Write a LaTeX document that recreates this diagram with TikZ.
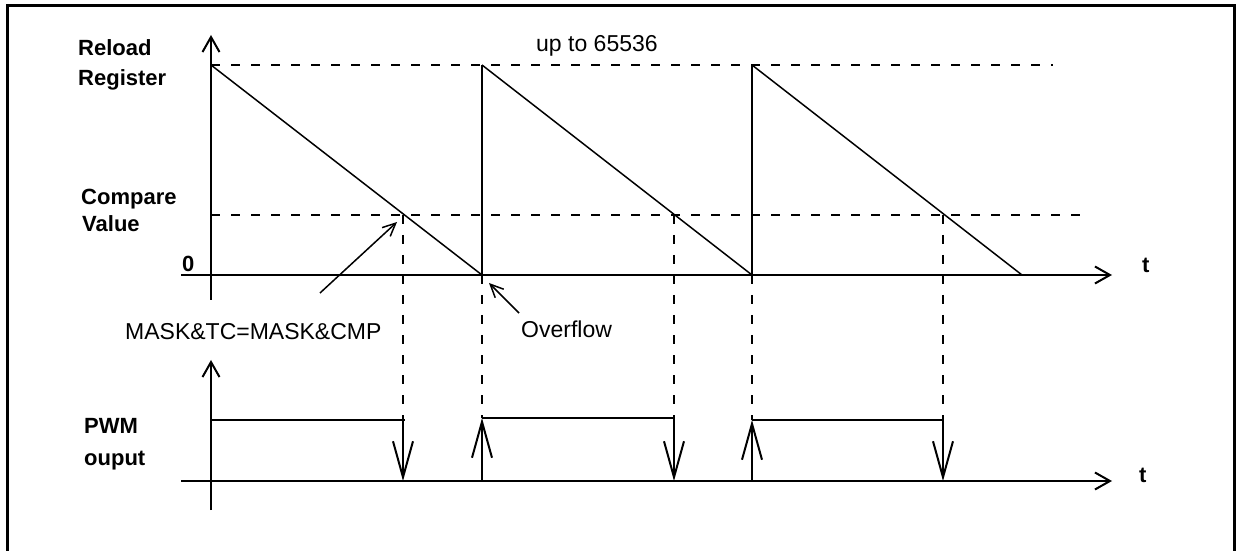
\documentclass[tikz,border=0pt]{standalone}
\usepackage{fontspec}
\setmainfont{Liberation Sans}
\usetikzlibrary{arrows.meta}
\begin{document}
\begin{tikzpicture}[x=1bp,y=-1bp,
  frame/.style={line width=3bp},
  ax/.style={line width=2bp},
  axarrow/.style={line width=2bp,-{Straight Barb[length=15bp,width=17bp]}},
  sawdiag/.style={line width=1.5bp},
  sawvert/.style={line width=2bp},
  guide/.style={line width=2bp,dash pattern=on 9bp off 11bp},
  edgearrow/.style={line width=2bp,-{Straight Barb[length=36bp,width=20bp]}},
  pointer/.style={line width=1.5bp,-{Straight Barb[length=13bp,width=12bp]}},
  lbl/.style={inner sep=0pt,font=\fontsize{22bp}{26bp}\selectfont\bfseries,anchor=base west},
  txt/.style={inner sep=0pt,font=\fontsize{23bp}{27bp}\selectfont,anchor=base west}]
\useasboundingbox (0,0) rectangle (1237,551);
% frame
\draw[frame] (7,551) -- (7,6) -- (1234,6) -- (1234,551);
% key points
\coordinate (ytop) at (211,35);   \coordinate (ybot) at (211,300);
\coordinate (xl) at (181,275);    \coordinate (xr) at (1112,275);
\coordinate (r0) at (211,65);     \coordinate (rE) at (1053,65);
\coordinate (c0) at (211,215);    \coordinate (cE) at (1082,215);
\coordinate (z1) at (482,275);    \coordinate (t1) at (482,65);
\coordinate (z2) at (752,275);    \coordinate (t2) at (752,65);
\coordinate (z3) at (1022,275);
\coordinate (k1) at (403,215);    \coordinate (k2) at (674,215);   \coordinate (k3) at (943,215);
% PWM points
\coordinate (pytop) at (211,360); \coordinate (pybot) at (211,510);
\coordinate (pxl) at (181,481);   \coordinate (pxr) at (1112,481);
\coordinate (h0) at (211,420);    \coordinate (h1e) at (405,420);
\coordinate (f1h) at (403,420);   \coordinate (f1l) at (403,481);
\coordinate (u1l) at (482,481);   \coordinate (u1h) at (482,418);
\coordinate (h2e) at (674,418);
\coordinate (f2h) at (674,418);   \coordinate (f2l) at (674,481);
\coordinate (u2l) at (752,481);   \coordinate (u2h) at (752,420);
\coordinate (h3e) at (943,420);
\coordinate (f3h) at (943,420);   \coordinate (f3l) at (943,481);
% axes
\draw[axarrow] (ybot) -- (ytop);
\draw[axarrow] (xl) -- (xr);
% guides
\draw[guide] (r0) -- (rE);
\draw[guide] (c0) -- (cE);
% sawtooth
\draw[sawdiag] (r0) -- (z1);
\draw[sawvert] (z1) -- (t1);
\draw[sawdiag] (t1) -- (z2);
\draw[sawvert] (z2) -- (t2);
\draw[sawdiag] (t2) -- (z3);
% vertical guides
\draw[guide] (k1) -- (f1h);
\draw[guide] (z1) -- (u1h);
\draw[guide] (k2) -- (f2h);
\draw[guide] (z2) -- (u2h);
\draw[guide] (k3) -- (f3h);
% PWM axes
\draw[axarrow] (pybot) -- (pytop);
\draw[axarrow] (pxl) -- (pxr);
% PWM high levels
\draw[ax] (h0) -- (h1e);
\draw[ax] (u1h) -- (h2e);
\draw[ax] (u2h) -- (h3e);
% edges
\draw[edgearrow] (f1h) -- (f1l);
\draw[edgearrow] (u1l) -- (u1h);
\draw[edgearrow] (f2h) -- (f2l);
\draw[edgearrow] (u2l) -- (u2h);
\draw[edgearrow] (f3h) -- (f3l);
% labels
\node[lbl] (reload) at (78,56) {Reload};
\node[lbl] (register) at (78,86) {Register};
\node[lbl] (compare) at (81,205) {Compare};
\node[lbl] (value) at (82,232) {Value};
\node[lbl] (zero) at (182,272) {0};
\node[txt] (upto) at (536,52) {up to 65536};
\node[txt] (mask) at (125,340) {MASK\&TC=MASK\&CMP};
\node[txt] (overflow) at (521,338) {Overflow};
\node[lbl] (pwm) at (84,433) {PWM};
\node[lbl] (ouput) at (84,465) {ouput};
\node[lbl] (tA) at (1142,273) {t};
\node[lbl] (tB) at (1139,482) {t};
% pointers
\coordinate (m1) at (320,293); \coordinate (m2) at (397,222);
\draw[pointer] (m1) -- (m2);
\coordinate (o1) at (519,313); \coordinate (o2) at (489,283);
\draw[pointer] (o1) -- (o2);
\end{tikzpicture}
\end{document}
